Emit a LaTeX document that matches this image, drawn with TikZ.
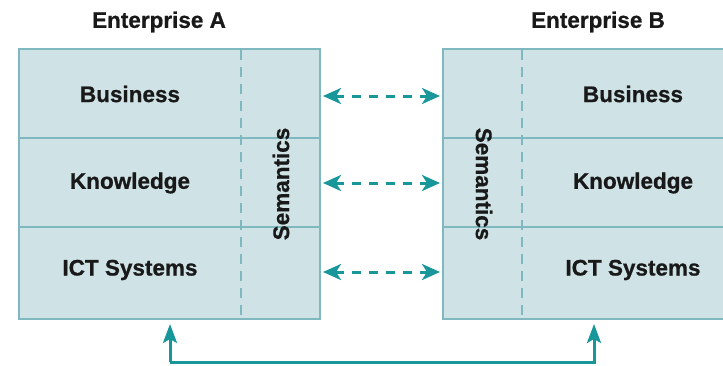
\documentclass[tikz,border=0pt]{standalone}
\usepackage{fontspec}
\setmainfont{Liberation Sans}[BoldFeatures={FakeBold=0.8}]
\usetikzlibrary{arrows.meta}
\definecolor{boxfill}{HTML}{CFE3E6}
\definecolor{boxline}{HTML}{80B8BF}
\definecolor{teal1}{HTML}{17979A}
\tikzset{
  lbl/.style={font=\bfseries\fontsize{22.5}{24}\selectfont, text=black!90, inner sep=0pt},
  layer/.style={draw=boxline, line width=1.8pt, fill=boxfill},
  semline/.style={draw=boxline, line width=1.7pt, dash pattern=on 10pt off 7pt},
  link/.style={teal1, line width=3pt, dash pattern=on 9pt off 8pt,
     {Stealth[length=18pt,width=16pt,inset=5pt]}-{Stealth[length=18pt,width=16pt,inset=5pt]}},
  solidlink/.style={teal1, line width=3pt, -{Stealth[length=19pt,width=14pt,inset=4pt]}}
}
\begin{document}
\begin{tikzpicture}[x=1pt,y=-1pt]
\useasboundingbox (0,0) rectangle (723,365);
% Enterprise A
\node[lbl] (ta) at (159,22) {Enterprise A};
\path[layer] (19,49) rectangle (320,138);
\path[layer] (19,138) rectangle (320,227);
\path[layer] (19,227) rectangle (320,319);
\draw[semline] (241,50) -- (241,318);
\node[lbl] (aBus) at (130,94) {Business};
\node[lbl] (aKno) at (130,183) {Knowledge};
\node[lbl] (aIct) at (130,270) {ICT Systems};
\node[lbl, rotate=90] (aSem) at (281,184) {Semantics};
% Enterprise B
\node[lbl] (tb) at (598,22) {Enterprise B};
\path[layer] (443,49) rectangle (728,138);
\path[layer] (443,138) rectangle (728,227);
\path[layer] (443,227) rectangle (728,319);
\draw[semline] (522,50) -- (522,318);
\node[lbl] (bBus) at (633,94) {Business};
\node[lbl] (bKno) at (633,183) {Knowledge};
\node[lbl] (bIct) at (633,270) {ICT Systems};
\node[lbl, rotate=-90] (bSem) at (484,184) {Semantics};
% connectors
\coordinate (l1) at (323,96);  \coordinate (r1) at (440,96);
\coordinate (l2) at (323,183); \coordinate (r2) at (440,183);
\coordinate (l3) at (323,272); \coordinate (r3) at (440,272);
\draw[link] (l1) -- (r1);
\draw[link] (l2) -- (r2);
\draw[link] (l3) -- (r3);
\coordinate (bot) at (170,362);
\coordinate (aUp) at (170,324);
\coordinate (bUp) at (594,324);
\draw[solidlink] (bot) -- (aUp);
\draw[solidlink] (bot) -- (594,362) -- (bUp);
\end{tikzpicture}
\end{document}
